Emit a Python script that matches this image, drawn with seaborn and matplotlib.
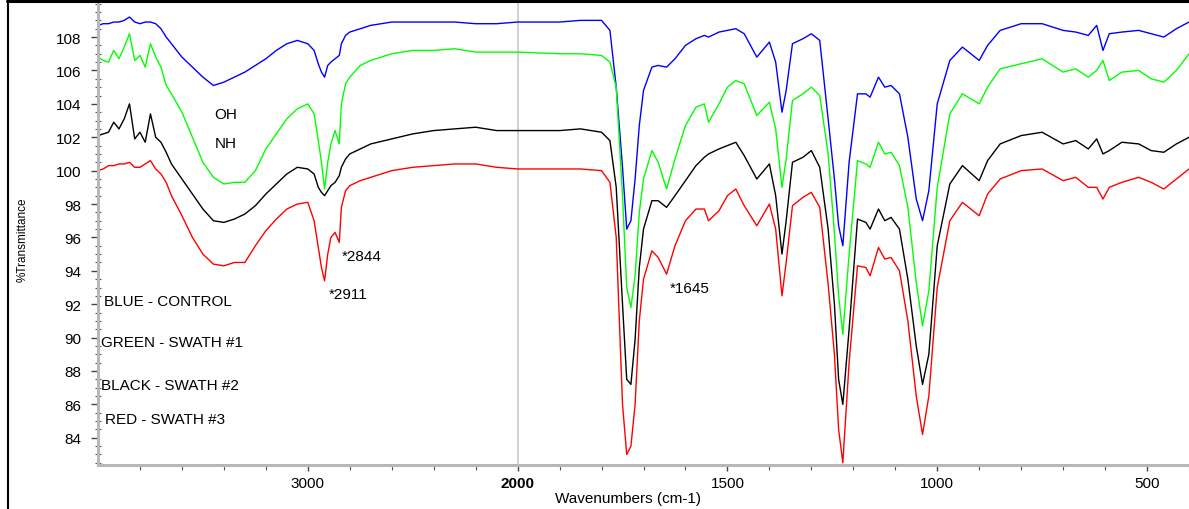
import numpy as np
import pandas as pd
import matplotlib
matplotlib.use("Agg")
import matplotlib.pyplot as plt
import seaborn as sns
from matplotlib.lines import Line2D

# ---------------- data ----------------
wavenumber = [4000, 3975, 3950, 3925, 3900, 3875, 3850, 3825, 3800, 3775, 3750, 3725, 3700, 3675, 3650,
              3600, 3550, 3500, 3450, 3400, 3350, 3300, 3250, 3200, 3150, 3100, 3050, 3000,
              2970, 2950, 2935, 2920, 2905, 2890, 2870, 2850, 2840, 2820, 2800, 2750, 2700,
              2600, 2500, 2400, 2300, 2200, 2100, 2000, 1900, 1850, 1800,
              1780, 1765, 1750, 1740, 1730, 1720, 1710, 1700, 1680, 1665, 1645, 1625, 1600,
              1575, 1555, 1545, 1520, 1500, 1480, 1460, 1430, 1400, 1385, 1370, 1360, 1345,
              1320, 1300, 1280, 1260, 1245, 1235, 1225, 1210, 1190, 1170, 1160, 1140, 1125,
              1110, 1090, 1070, 1050, 1035, 1020, 1000, 970, 940, 900, 880, 850, 800, 750,
              700, 670, 640, 620, 605, 590, 560, 520, 490, 460, 430, 400]

t_control = [108.7, 108.8, 108.8, 108.9, 108.9, 109.0, 109.2, 108.9, 108.8, 108.9, 108.9, 108.8, 108.5, 108.0, 107.6,
             106.8, 106.2, 105.6, 105.1, 105.3, 105.6, 105.9, 106.3, 106.7, 107.2, 107.6, 107.8, 107.6,
             107.2, 106.4, 105.9, 105.6, 106.3, 106.5, 106.7, 106.9, 107.6, 108.1, 108.3, 108.5, 108.7,
             108.9, 108.9, 108.9, 108.9, 108.8, 108.8, 108.9, 108.9, 109.0, 109.0,
             108.4, 105.0, 100.2, 96.5, 97.0, 99.5, 102.7, 104.8, 106.2, 106.3, 106.2, 106.7, 107.5,
             107.9, 108.1, 108.0, 108.3, 108.4, 108.5, 108.2, 106.8, 107.7, 106.5, 103.5, 104.8, 107.6,
             107.9, 108.2, 107.8, 103.1, 99.5, 96.7, 95.5, 100.5, 104.6, 104.6, 104.4, 105.6, 105.0,
             105.1, 104.6, 102.0, 98.3, 97.0, 98.8, 104.0, 106.6, 107.4, 106.6, 107.5, 108.4, 108.8, 108.8,
             108.4, 108.3, 108.1, 108.7, 107.2, 108.2, 108.3, 108.4, 108.2, 108.0, 108.5, 108.9]

t_swath1 = [106.8, 106.6, 106.5, 107.2, 106.7, 107.4, 108.2, 106.6, 106.9, 106.2, 107.6, 106.8, 106.2, 105.1, 104.6,
            103.5, 102.0, 100.5, 99.6, 99.2, 99.3, 99.3, 100.0, 101.3, 102.2, 103.1, 103.7, 104.0,
            103.4, 101.8, 100.5, 98.9, 100.5, 101.6, 102.4, 101.6, 104.0, 105.2, 105.6, 106.3, 106.6,
            107.0, 107.2, 107.2, 107.3, 107.1, 107.1, 107.1, 107.0, 107.0, 106.9,
            106.5, 105.0, 98.5, 93.0, 91.8, 93.7, 97.5, 99.5, 101.2, 100.5, 98.9, 100.7, 102.7,
            103.8, 104.0, 102.9, 104.0, 105.0, 105.4, 105.2, 103.3, 104.1, 102.5, 99.0, 100.7, 104.2,
            104.6, 105.0, 104.5, 101.0, 96.3, 92.5, 90.2, 95.0, 100.6, 100.4, 100.2, 101.7, 101.0,
            101.1, 100.3, 97.8, 93.3, 90.7, 92.8, 99.0, 103.4, 104.6, 104.0, 105.0, 106.1, 106.4, 106.7,
            105.9, 106.1, 105.6, 106.0, 106.6, 105.4, 105.9, 106.0, 105.5, 105.3, 106.0, 107.0]

t_swath2 = [102.1, 102.2, 102.3, 102.9, 102.5, 103.1, 104.0, 101.9, 102.3, 101.7, 103.4, 102.0, 101.7, 101.1, 100.4,
            99.5, 98.6, 97.7, 97.0, 96.9, 97.1, 97.4, 97.9, 98.6, 99.2, 99.8, 100.2, 100.1,
            99.8, 99.0, 98.7, 98.5, 98.8, 99.1, 99.3, 99.7, 100.2, 100.7, 101.0, 101.3, 101.6,
            101.9, 102.2, 102.4, 102.5, 102.6, 102.4, 102.4, 102.4, 102.5, 102.3,
            101.8, 99.0, 92.0, 87.5, 87.2, 89.9, 94.2, 96.5, 98.2, 98.2, 97.8, 98.5, 99.4,
            100.3, 100.8, 101.0, 101.3, 101.5, 101.7, 100.9, 99.5, 100.4, 98.5, 95.0, 97.0, 100.5,
            100.8, 101.2, 100.2, 96.5, 92.0, 87.5, 86.0, 90.5, 97.1, 96.9, 96.5, 97.7, 97.0,
            97.2, 96.5, 93.5, 89.5, 87.2, 89.0, 95.5, 99.2, 100.3, 99.4, 100.6, 101.6, 102.1, 102.3,
            101.6, 101.8, 101.3, 101.9, 101.0, 101.2, 101.7, 101.6, 101.2, 101.1, 101.6, 102.0]

t_swath3 = [100.0, 100.1, 100.3, 100.3, 100.4, 100.4, 100.5, 100.2, 100.2, 100.4, 100.6, 100.1, 99.8, 99.3, 98.5,
            97.3, 96.0, 95.0, 94.4, 94.3, 94.5, 94.5, 95.5, 96.4, 97.1, 97.7, 98.0, 98.1,
            97.0, 95.4, 94.2, 93.4, 95.0, 96.0, 96.3, 95.7, 97.8, 98.8, 99.1, 99.4, 99.6,
            100.0, 100.2, 100.3, 100.4, 100.4, 100.2, 100.1, 100.1, 100.1, 100.0,
            99.3, 96.0, 86.0, 83.0, 83.5, 86.0, 91.0, 93.5, 95.2, 94.8, 93.8, 95.5, 97.0,
            97.7, 97.7, 97.0, 97.6, 98.5, 98.9, 97.9, 96.7, 98.0, 96.5, 92.5, 94.5, 97.9,
            98.4, 98.7, 97.8, 93.2, 89.0, 84.5, 82.5, 88.5, 94.3, 94.2, 93.7, 95.4, 94.7,
            94.8, 94.0, 91.0, 86.5, 84.2, 86.5, 93.0, 97.0, 98.1, 97.3, 98.6, 99.5, 100.0, 100.1,
            99.4, 99.6, 99.0, 99.0, 98.3, 99.0, 99.3, 99.6, 99.3, 98.9, 99.5, 100.1]

series_labels = ["BLUE - CONTROL", "GREEN - SWATH #1", "BLACK - SWATH #2", "RED - SWATH #3"]
series_colors = ["#0000ff", "#00ff00", "#000000", "#ff0000"]

x_major = [3000, 2000, 1500, 1000, 500]
x_minor = [3800, 3600, 3400, 3200, 2800, 2600, 2400, 2200,
           1900, 1800, 1700, 1600, 1400, 1300, 1200, 1100, 900, 800, 700, 600, 400]
y_major = [84, 86, 88, 90, 92, 94, 96, 98, 100, 102, 104, 106, 108]

peak_labels = ["*2844", "*2911", "*1645"]
peak_pos = [(2840, 94.9), (2902, 92.6), (1637, 93.0)]
band_labels = ["OH", "NH"]
band_pos = [(3390, 103.4), (3390, 101.65)]
legend_pos = [(3970, 92.19), (3984, 89.74), (3984, 87.16), (3965, 85.13)]

# ---------------- figure ----------------
sns.set_theme(style="white")
plt.rcParams["font.family"] = ["Liberation Sans", "DejaVu Sans"]
plt.rcParams["text.color"] = "black"
plt.rcParams["axes.labelcolor"] = "black"
plt.rcParams["xtick.color"] = "black"
plt.rcParams["ytick.color"] = "black"

W, H = 1189, 510
fig = plt.figure(figsize=(W / 100, H / 100), dpi=100)
ax = fig.add_axes([98 / W, 44 / H, 1 - 98 / W, 463 / H])


def fwd(w):
    w = np.asarray(w, dtype=float)
    return np.where(w > 2000, 2000 + 0.5 * (w - 2000), w)


def inv(u):
    u = np.asarray(u, dtype=float)
    return np.where(u > 2000, 2000 + 2.0 * (u - 2000), u)


ax.set_xscale("function", functions=(fwd, inv))

frames = []
for lab, vals in zip(series_labels, [t_control, t_swath1, t_swath2, t_swath3]):
    frames.append(pd.DataFrame({"wn": wavenumber, "T": vals, "series": lab}))
df = pd.concat(frames, ignore_index=True)

ax.axvline(2000, color="#c4c4c4", lw=1.1, zorder=0.5)

sns.lineplot(data=df, x="wn", y="T", hue="series", hue_order=series_labels,
             palette=dict(zip(series_labels, series_colors)), sort=False,
             estimator=None, legend=False, lw=1.0, ax=ax)

ax.set_xlim(4000, 405)
ax.set_ylim(82.37, 110.1)

ax.set_xticks(x_major, labels=[str(v) for v in x_major])
ax.set_xticks(x_minor, minor=True)
ax.set_yticks(y_major, labels=[str(v) for v in y_major])
ax.set_yticks(np.arange(82.5, 110.01, 0.5), minor=True)
for t in ax.get_xticklabels():
    if t.get_text() == "2000":
        t.set_fontweight("bold")

for s in ["top", "right"]:
    ax.spines[s].set_visible(False)
for s in ["left", "bottom"]:
    ax.spines[s].set_color("#b8b8b8")
    ax.spines[s].set_linewidth(2.2)

ax.tick_params(axis="y", which="major", direction="out", length=5, width=1.0,
               color="#444444", labelcolor="black", labelsize=11, pad=7, left=True)
ax.tick_params(axis="y", which="minor", direction="inout", length=4, width=0.8,
               color="#555555", left=True)
ax.tick_params(axis="x", which="major", direction="out", length=4, width=1.0,
               color="#444444", labelcolor="black", labelsize=11, pad=4, bottom=True)
ax.tick_params(axis="x", which="minor", direction="out", length=3.5, width=0.8,
               color="#555555", bottom=True)

ax.set_xlabel("Wavenumbers (cm-1)", fontsize=11, color="black")
ax.xaxis.set_label_coords(0.486, -0.056)
ax.set_ylabel("%Transmittance", fontsize=8.5, color="black")
ax.yaxis.set_label_coords(-0.064, 0.488)

for txt, (x, y) in zip(band_labels, band_pos):
    ax.text(x, y, txt, ha="center", va="center", fontsize=11, color="black")
for txt, (x, y) in zip(peak_labels, peak_pos):
    ax.text(x, y, txt, ha="left", va="center", fontsize=11, color="black")
for txt, (x, y) in zip(series_labels, legend_pos):
    ax.text(x, y, txt, ha="left", va="center", fontsize=11, color="black")

# frame lines of the original image
fig.add_artist(Line2D([7 / W, 1], [1 - 1.5 / H, 1 - 1.5 / H], color="black", lw=2.2,
                      transform=fig.transFigure))
fig.add_artist(Line2D([8.3 / W, 8.3 / W], [0, 1], color="black", lw=1.5,
                      transform=fig.transFigure))

fig.savefig("out.png", dpi=100)
